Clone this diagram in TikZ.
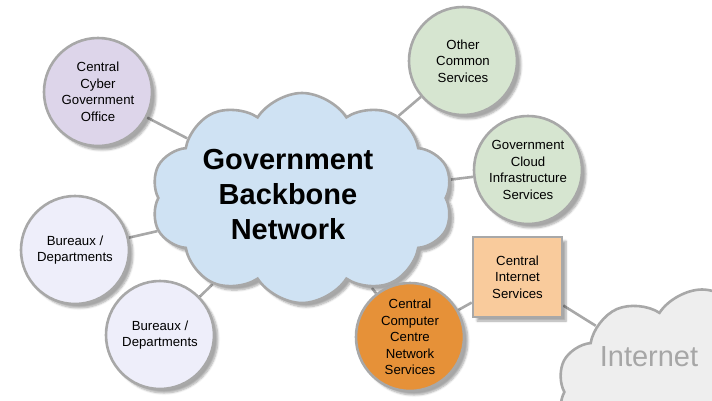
\documentclass[tikz,border=0pt]{standalone}
\usepackage{fontspec}
\setmainfont{Liberation Sans}
\usetikzlibrary{shapes.symbols,shadows.blur,backgrounds}
\definecolor{edgegray}{HTML}{A8A8A8}
\definecolor{linegray}{HTML}{A8A8A8}
\definecolor{cyberfill}{HTML}{DDD5EA}
\definecolor{burfill}{HTML}{EEEEFA}
\definecolor{greenfill}{HTML}{D6E5D0}
\definecolor{orangefill}{HTML}{E69138}
\definecolor{boxfill}{HTML}{F9CB9C}
\definecolor{bluefill}{HTML}{CFE2F3}
\definecolor{netfill}{HTML}{EEEEEE}
\definecolor{nettext}{HTML}{A6A6A6}
\tikzset{
  shad/.style={blur shadow={shadow xshift=4pt,shadow yshift=-4pt,shadow blur steps=6,shadow opacity=35}},
  circ/.style={circle,draw=edgegray,line width=2.6pt,minimum size=108pt,inner sep=0pt,align=center,
    font=\fontsize{13.2}{16.5}\selectfont,shad},
  conn/.style={draw=linegray,line width=2.6pt},
}
\begin{document}
\begin{tikzpicture}[x=1pt,y=-1pt]
\useasboundingbox (0,0) rectangle (712,400);
\clip (0,0) rectangle (712,400);
% Internet cloud
\node[cloud,cloud puffs=10,cloud puff arc=115,aspect=1.4,draw=edgegray,line width=2.6pt,fill=netfill,
  minimum width=290pt,minimum height=205pt] (net) at (702,392) {};
\node[text=nettext,font=\fontsize{29}{30}\selectfont] (nettxt) at (649,357) {Internet};
% backbone cloud
\node[cloud,cloud puffs=10,cloud puff arc=115,aspect=1.45,draw=edgegray,line width=2.6pt,fill=bluefill,
  minimum width=302pt,minimum height=210pt,shad] (gbn) at (302,198) {};
\node[align=center,font=\bfseries\fontsize{29}{35}\selectfont] (gbntxt) at (288,195) {Government\\Backbone\\Network};
\node[circ,fill=cyberfill] (cyber) at (98,92) {Central\\Cyber\\Government\\Office};
\node[circ,fill=burfill] (bur1) at (75,250) {Bureaux /\\Departments};
\node[circ,fill=burfill] (bur2) at (160,335) {Bureaux /\\Departments};
\node[circ,fill=greenfill] (other) at (463,61) {Other\\Common\\Services};
\node[circ,fill=greenfill] (cloudsvc) at (528,170) {Government\\Cloud\\Infrastructure\\Services};
\node[circ,fill=orangefill] (ccc) at (410,337) {Central\\Computer\\Centre\\Network\\Services};
\node[rectangle,draw=edgegray,line width=2.6pt,fill=boxfill,minimum width=89pt,minimum height=80pt,
  align=center,font=\fontsize{13.2}{16.5}\selectfont,shad] (cis) at (517.5,277) {Central\\Internet\\Services};
\begin{scope}[on background layer]
\draw[conn] (cyber) -- (gbn);
\draw[conn] (bur1) -- (gbn);
\draw[conn] (bur2) -- (gbn);
\draw[conn] (other) -- (gbn);
\draw[conn] (cloudsvc) -- (gbn);
\draw[conn] (ccc) -- (gbn);
\draw[conn] (ccc) -- (cis);
\draw[conn] (cis) -- (net);
\end{scope}
\end{tikzpicture}
\end{document}
